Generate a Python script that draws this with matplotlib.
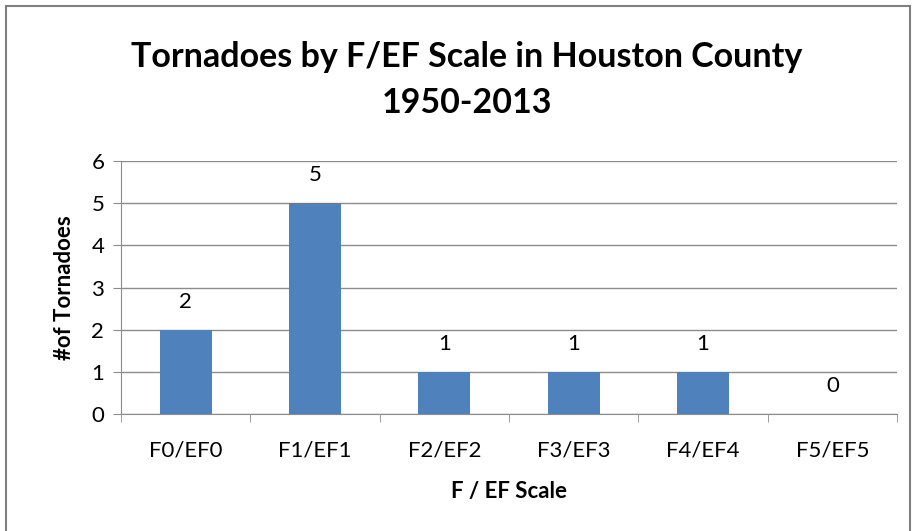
import matplotlib.pyplot as plt
import numpy as np

# Houston County tornado counts by F/EF scale
categories = ['F0/EF0', 'F1/EF1', 'F2/EF2', 'F3/EF3', 'F4/EF4', 'F5/EF5']
counts = [2, 5, 1, 1, 1, 0]

plt.rcParams['font.family'] = ['Lato', 'DejaVu Sans']

fig = plt.figure(figsize=(9.14, 5.31), dpi=100)
ax = fig.add_axes([121/914, 1-414/531, (897-121)/914, (414-161)/531])

x = np.arange(len(categories))
ax.bar(x, counts, width=0.4, color='#4F81BD', zorder=3)
for xi, c in zip(x, counts):
    ax.annotate(str(c), (xi, c), xytext=(0, 20), textcoords='offset points',
                ha='center', va='center', fontsize=16)

ax.set_xlim(-0.5, len(categories)-0.5)
ax.set_ylim(0, 6)
ax.set_yticks(range(7))
ax.yaxis.grid(True, color='#8c8c8c', linewidth=1, zorder=0)
ax.set_xticks(x)
ax.set_xticklabels(categories, fontsize=16)
ax.set_xticks(np.arange(-0.5, len(categories)), minor=True)
ax.tick_params(axis='x', which='major', length=0, pad=19)
ax.tick_params(axis='x', which='minor', length=6, color='#8c8c8c')
ax.tick_params(axis='y', length=6, color='#8c8c8c', labelsize=16, pad=6)
for s in ['top', 'right']:
    ax.spines[s].set_visible(False)
for s in ['left', 'bottom']:
    ax.spines[s].set_color('#8c8c8c')

ax.set_xlabel('F / EF Scale', fontsize=16, fontweight='bold', labelpad=15)
ax.set_ylabel('#of Tornadoes', fontsize=16, fontweight='bold', labelpad=12)

fig.text(467/914, 1-57/531, 'Tornadoes by F/EF Scale in Houston County',
         ha='center', va='center', fontsize=24.5, fontweight='bold')
fig.text(467/914, 1-103/531, '1950-2013',
         ha='center', va='center', fontsize=24.5, fontweight='bold')

fig.patches.append(plt.Rectangle((6/914, -0.05), 904/914, 1-6/531+0.05,
                                 transform=fig.transFigure, fill=False,
                                 edgecolor='#7f7f7f', linewidth=1.5))

plt.savefig('out.png', dpi=100)
